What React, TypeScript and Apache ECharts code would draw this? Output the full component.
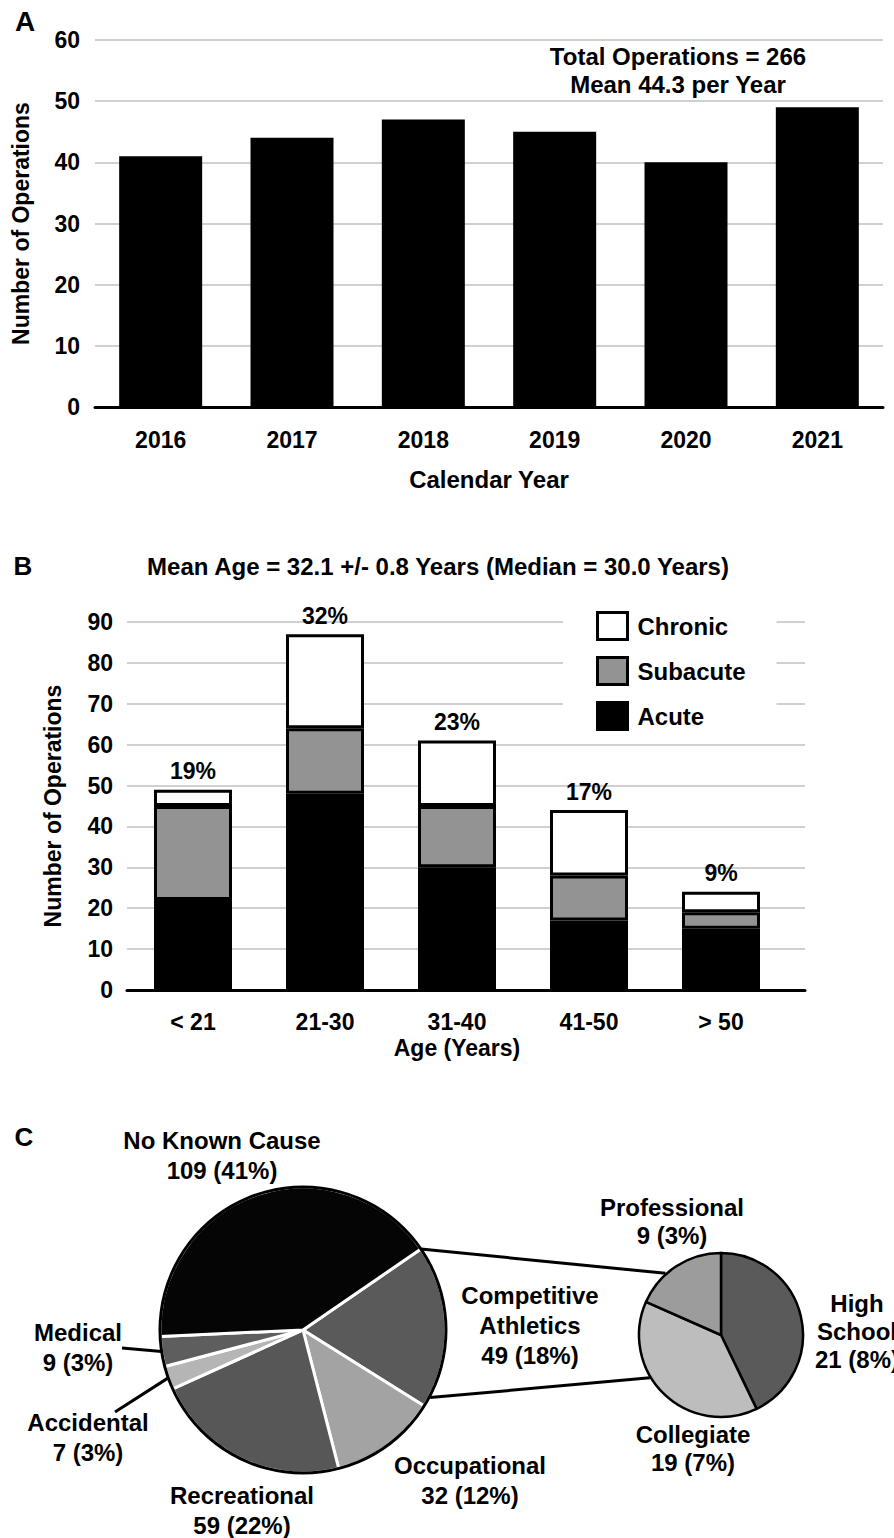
import React, { useEffect, useRef } from "react";
import * as echarts from "echarts";

// ---------- data ----------
const years = ["2016", "2017", "2018", "2019", "2020", "2021"];
const opsByYear = [41, 44, 47, 45, 40, 49];
const yearTicksMax = 60;

const ageGroups = ["< 21", "21-30", "31-40", "41-50", "> 50"];
const acute = [22, 48, 30, 17, 15];
const subacute = [23, 16, 15, 11, 4];
const chronic = [4, 23, 16, 16, 5];
const agePct = [19, 32, 23, 17, 9];
const ageTicksMax = 90;

const causeNames = ["Competitive\nAthletics", "Occupational", "Recreational", "Accidental", "Medical", "No Known Cause"];
const causeValues = [49, 32, 59, 7, 9, 109];
const causePct = [18, 12, 22, 3, 3, 41];
const causeColors = ["#5a5a5a", "#a3a3a3", "#575757", "#b5b5b5", "#5e5e5e", "#050505"];

const athNames = ["High\nSchool", "Collegiate", "Professional"];
const athValues = [21, 19, 9];
const athPct = [8, 7, 3];
const athColors = ["#5a5a5a", "#bdbdbd", "#9c9c9c"];

// ---------- layout ----------
const FF = '"Liberation Sans", Arial, Helvetica, sans-serif';
const MAIN = { cx: 303, cy: 1330, r: 143, start: 34.5 };
const SMALL = { cx: 721, cy: 1335, r: 82, start: 90 };
const CAUSE_LABEL_POS = [
  [530, 1325],
  [470, 1480],
  [242, 1510],
  [88, 1437],
  [78, 1347],
  [222, 1155],
];
const ATH_LABEL_POS = [
  [857, 1331],
  [693, 1448],
  [672, 1221],
];

function pt(cx: number, cy: number, r: number, deg: number) {
  const a = (deg * Math.PI) / 180;
  return [cx + r * Math.cos(a), cy - r * Math.sin(a)];
}

function midAngle(values: number[], idx: number, start: number) {
  const total = values.reduce((s, v) => s + v, 0);
  let before = 0;
  for (let i = 0; i < idx; i++) before += values[i];
  return start - ((before + values[idx] / 2) / total) * 360;
}

export default function App() {
  const ref = useRef<HTMLDivElement>(null);

  useEffect(() => {
    if (!ref.current) return;
    const chart = echarts.init(ref.current, null, { renderer: "svg" });

    const txt = (text: string, x: number, y: number, size: number, extra: any = {}) => ({
      type: "text",
      x,
      y,
      silent: true,
      style: {
        text,
        font: `bold ${size}px ${FF}`,
        fill: "#000",
        align: "center",
        verticalAlign: "middle",
        ...extra,
      },
    });
    const line = (p1: number[], p2: number[], w = 3) => ({
      type: "line",
      silent: true,
      z: 10,
      shape: { x1: p1[0], y1: p1[1], x2: p2[0], y2: p2[1] },
      style: { stroke: "#000", lineWidth: w },
    });

    const medEdge = pt(MAIN.cx, MAIN.cy, MAIN.r, midAngle(causeValues, 4, MAIN.start));
    const accEdge = pt(MAIN.cx, MAIN.cy, MAIN.r, midAngle(causeValues, 3, MAIN.start));

    const axisLabelStyle = { fontSize: 23, fontWeight: "bold", color: "#000", fontFamily: FF };
    const nameStyle = { fontSize: 23, fontWeight: "bold", color: "#000", fontFamily: FF };
    const splitLine = { show: true, lineStyle: { color: "#d0d0d0", width: 2 } };

    const option: any = {
      animation: false,
      backgroundColor: "#fff",
      grid: [
        { left: 95, top: 40, width: 788, height: 367 },
        { left: 127, top: 622, width: 678, height: 368 },
        { left: 127, top: 622, width: 660, height: 368 },
      ],
      xAxis: [
        {
          type: "category",
          gridIndex: 0,
          data: years,
          axisLine: { lineStyle: { color: "#000", width: 3 } },
          axisTick: { show: false },
          axisLabel: { ...axisLabelStyle, margin: 21 },
          name: "Calendar Year",
          nameLocation: "middle",
          nameGap: 60,
          nameTextStyle: { ...nameStyle, fontSize: 24 },
        },
        {
          type: "category",
          gridIndex: 1,
          data: [""],
          axisLine: { lineStyle: { color: "#000", width: 3 } },
          axisTick: { show: false },
          axisLabel: { show: false },
          splitLine: { show: false },
        },
        {
          type: "category",
          gridIndex: 2,
          data: ageGroups,
          axisLine: { show: false },
          axisTick: { show: false },
          axisLabel: { ...axisLabelStyle, margin: 20 },
          name: "Age (Years)",
          nameLocation: "middle",
          nameGap: 46,
          nameTextStyle: nameStyle,
        },
      ],
      yAxis: [
        {
          type: "value",
          gridIndex: 0,
          min: 0,
          max: yearTicksMax,
          interval: 10,
          axisLine: { show: false },
          axisTick: { show: false },
          axisLabel: { ...axisLabelStyle, margin: 15 },
          splitLine,
          name: "Number of Operations",
          nameLocation: "middle",
          nameGap: 63,
          nameTextStyle: nameStyle,
        },
        {
          type: "value",
          gridIndex: 1,
          min: 0,
          max: ageTicksMax,
          interval: 10,
          axisLine: { show: false },
          axisTick: { show: false },
          axisLabel: { ...axisLabelStyle, margin: 14 },
          splitLine,
          name: "Number of Operations",
          nameLocation: "middle",
          nameGap: 63,
          nameTextStyle: nameStyle,
        },
        {
          type: "value",
          gridIndex: 2,
          min: 0,
          max: ageTicksMax,
          interval: 10,
          show: false,
          splitLine: { show: false },
        },
      ],
      legend: {
        data: ["Chronic", "Subacute", "Acute"],
        orient: "vertical",
        left: 563,
        top: 604,
        icon: "rect",
        itemWidth: 30,
        itemHeight: 27,
        itemGap: 15,
        padding: [7, 31, 12, 33],
        backgroundColor: "#fff",
        itemStyle: { borderColor: "#000", borderWidth: 3 },
        textStyle: { fontSize: 24, fontWeight: "bold", color: "#000", fontFamily: FF, padding: [0, 0, 0, 5] },
        selectedMode: false,
      },
      series: [
        {
          type: "bar",
          name: "Operations",
          xAxisIndex: 0,
          yAxisIndex: 0,
          data: opsByYear,
          barWidth: 83,
          itemStyle: { color: "#000" },
          silent: true,
        },
        {
          type: "bar",
          name: "Acute",
          xAxisIndex: 2,
          yAxisIndex: 2,
          stack: "age",
          data: acute,
          barWidth: 78,
          itemStyle: { color: "#000", borderColor: "#000", borderWidth: 3 },
        },
        {
          type: "bar",
          name: "Subacute",
          xAxisIndex: 2,
          yAxisIndex: 2,
          stack: "age",
          data: subacute,
          barWidth: 78,
          itemStyle: { color: "#939393", borderColor: "#000", borderWidth: 3 },
        },
        {
          type: "bar",
          name: "Chronic",
          xAxisIndex: 2,
          yAxisIndex: 2,
          stack: "age",
          data: chronic,
          barWidth: 78,
          itemStyle: { color: "#fff", borderColor: "#000", borderWidth: 3 },
          label: {
            show: true,
            position: "top",
            distance: 7,
            formatter: (p: any) => `${agePct[p.dataIndex]}%`,
            fontSize: 23,
            fontWeight: "bold",
            color: "#000",
            fontFamily: FF,
          },
        },
        {
          type: "pie",
          name: "Cause",
          center: [MAIN.cx, MAIN.cy],
          radius: MAIN.r,
          startAngle: MAIN.start,
          clockwise: true,
          avoidLabelOverlap: false,
          data: causeValues.map((v, i) => ({
            name: causeNames[i],
            value: v,
            itemStyle: { color: causeColors[i] },
          })),
          itemStyle: { borderColor: "#fff", borderWidth: 3 },
          label: {
            show: true,
            position: "outside",
            formatter: (p: any) => `${causeNames[p.dataIndex]}\n${p.value} (${causePct[p.dataIndex]}%)`,
            fontSize: 24,
            fontWeight: "bold",
            color: "#000",
            fontFamily: FF,
            lineHeight: 30,
            align: "center",
          },
          labelLine: { show: false },
          labelLayout: (p: any) => {
            const pos = CAUSE_LABEL_POS[p.dataIndex];
            return { x: pos[0], y: pos[1], align: "center", verticalAlign: "middle" };
          },
          emphasis: { disabled: true },
        },
        {
          type: "pie",
          name: "Outline",
          center: [MAIN.cx, MAIN.cy],
          radius: [MAIN.r - 1.5, MAIN.r + 1.5],
          silent: true,
          label: { show: false },
          labelLine: { show: false },
          data: [{ value: 1, name: "outline", itemStyle: { color: "#000" } }],
          emphasis: { disabled: true },
        },
        {
          type: "pie",
          name: "Athletics",
          center: [SMALL.cx, SMALL.cy],
          radius: SMALL.r,
          startAngle: SMALL.start,
          clockwise: true,
          avoidLabelOverlap: false,
          data: athValues.map((v, i) => ({
            name: athNames[i],
            value: v,
            itemStyle: { color: athColors[i] },
          })),
          itemStyle: { borderColor: "#000", borderWidth: 2.5 },
          label: {
            show: true,
            position: "outside",
            formatter: (p: any) => `${athNames[p.dataIndex]}\n${p.value} (${athPct[p.dataIndex]}%)`,
            fontSize: 24,
            fontWeight: "bold",
            color: "#000",
            fontFamily: FF,
            lineHeight: 28,
            align: "center",
          },
          labelLine: { show: false },
          labelLayout: (p: any) => {
            const pos = ATH_LABEL_POS[p.dataIndex];
            return { x: pos[0], y: pos[1], align: "center", verticalAlign: "middle" };
          },
          emphasis: { disabled: true },
        },
      ],
      graphic: [
        txt("A", 25, 21, 28),
        txt("Total Operations = 266", 678, 56, 24),
        txt("Mean 44.3 per Year", 678, 84, 24),
        txt("B", 23, 566, 26),
        txt("Mean Age = 32.1 +/- 0.8 Years (Median = 30.0 Years)", 438, 566, 24),
        txt("C", 24, 1137, 26),
        line(pt(MAIN.cx, MAIN.cy, MAIN.r, MAIN.start), pt(SMALL.cx, SMALL.cy, SMALL.r + 1, 132)),
        line(pt(MAIN.cx, MAIN.cy, MAIN.r + 1, -28), pt(SMALL.cx, SMALL.cy, SMALL.r + 1, 211)),
        line([122, 1348], medEdge),
        line([115, 1412], accEdge),
      ],
    };

    chart.setOption(option);
    return () => chart.dispose();
  }, []);

  return (
    <div
      ref={ref}
      style={{ position: "absolute", left: 0, top: 0, width: 894, height: 1538, background: "#fff" }}
    />
  );
}
